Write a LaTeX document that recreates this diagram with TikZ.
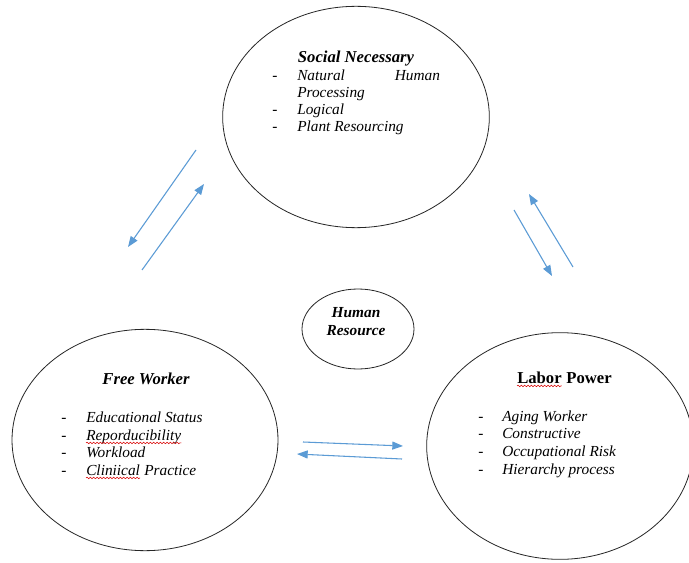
\documentclass[tikz,border=0pt]{standalone}
\usepackage{fontspec}
\setmainfont{Liberation Serif}
\usetikzlibrary{shapes.geometric,arrows.meta,decorations.pathmorphing}
\definecolor{arrowblue}{HTML}{5B9BD5}
\begin{document}
\begin{tikzpicture}[x=0.75pt,y=-0.75pt,
  bubble/.style={draw=black!85,line width=0.6pt,ellipse,inner sep=0pt},
  txt/.style={anchor=base west,inner sep=0pt,font=\fontsize{11.5}{13}\selectfont\itshape},
  dashmark/.style={anchor=base west,inner sep=0pt,font=\fontsize{11.5}{13}\selectfont},
  ttl/.style={anchor=base,inner sep=0pt,font=\fontsize{12.5}{13}\selectfont\bfseries\itshape},
  ttlup/.style={anchor=base west,inner sep=0pt,font=\fontsize{12.5}{13}\selectfont\bfseries},
  flow/.style={draw=arrowblue,line width=0.8pt,-{Triangle[length=8pt,width=6pt]}},
  spell/.style={draw=red!85!black,line width=0.4pt,decorate,decoration={snake,amplitude=0.6pt,segment length=2.5pt}}
]
\useasboundingbox (0,0) rectangle (689,563);
\fill[white] (0,0) rectangle (689,563);

% ellipses
\node[bubble,minimum width=200pt,minimum height=166pt] (social) at (356,117) {};
\node[bubble,minimum width=199.5pt,minimum height=166pt] (free) at (145,440) {};
\node[bubble,minimum width=200pt,minimum height=170pt] (labor) at (560,446) {};
\node[bubble,minimum width=84pt,minimum height=60pt] (human) at (358,329) {};

% Human Resource
\node[anchor=base,inner sep=0pt,font=\fontsize{11.5}{13}\selectfont\bfseries\itshape] (hr1) at (356,317) {Human};
\node[anchor=base,inner sep=0pt,font=\fontsize{11.5}{13}\selectfont\bfseries\itshape] (hr2) at (356,335) {Resource};

% Social Necessary
\node[ttl] (sn) at (356,63) {Social Necessary};
\node[dashmark] (snd1) at (272,81) {-};
\node[txt] (sn1) at (297,81) {\hbox to 107pt{Natural\hfill Human}};
\node[txt] (sn1b) at (297,98) {Processing};
\node[dashmark] (snd2) at (272,115) {-};
\node[txt] (sn2) at (297,115) {Logical};
\node[dashmark] (snd3) at (272,132) {-};
\node[txt] (sn3) at (297,132) {Plant Resourcing};

% Free Worker
\node[ttl] (fw) at (146,384) {Free Worker};
\node[dashmark] (fwd1) at (61,422) {-};
\node[txt] (fw1) at (86,422) {Educational Status};
\node[dashmark] (fwd2) at (61,440) {-};
\node[txt] (fw2) at (86,440) {Reporducibility};
\node[dashmark] (fwd3) at (61,457) {-};
\node[txt] (fw3) at (86,457) {Workload};
\node[dashmark] (fwd4) at (61,475) {-};
\node[txt] (fw4) at (86,475) {Cliniical};
\node[txt] (fw4b) at (fw4.base east) {\ Practice};
\draw[spell] ([yshift=-2.2pt]fw2.base west) -- ([yshift=-2.2pt]fw2.base east);
\draw[spell] ([yshift=-2.2pt]fw4.base west) -- ([yshift=-2.2pt]fw4.base east);

% Labor Power
\node[ttlup] (lp1) at (517,383) {Labor};
\node[ttlup] (lp2) at (lp1.base east) {\ Power};
\draw[spell] ([yshift=-2.2pt]lp1.base west) -- ([yshift=-2.2pt]lp1.base east);
\node[dashmark] (lpd1) at (478,421) {-};
\node[txt] (lp1i) at (502,421) {Aging Worker};
\node[dashmark] (lpd2) at (478,438) {-};
\node[txt] (lp2i) at (502,438) {Constructive};
\node[dashmark] (lpd3) at (478,456) {-};
\node[txt] (lp3i) at (502,456) {Occupational Risk};
\node[dashmark] (lpd4) at (478,474) {-};
\node[txt] (lp4i) at (502,474) {Hierarchy process};

% arrow end points
\coordinate (a1s) at (196,150);
\coordinate (a1e) at (128,247);
\coordinate (a2s) at (142,270);
\coordinate (a2e) at (204,184);
\coordinate (b1s) at (514,210);
\coordinate (b1e) at (552,276);
\coordinate (b2s) at (573,267);
\coordinate (b2e) at (529,194);
\coordinate (c1s) at (303,442);
\coordinate (c1e) at (403,446);
\coordinate (c2s) at (402,459);
\coordinate (c2e) at (297,454);

\draw[flow] (a1s) -- (a1e);
\draw[flow] (a2s) -- (a2e);
\draw[flow] (b1s) -- (b1e);
\draw[flow] (b2s) -- (b2e);
\draw[flow] (c1s) -- (c1e);
\draw[flow] (c2s) -- (c2e);
\end{tikzpicture}
\end{document}
